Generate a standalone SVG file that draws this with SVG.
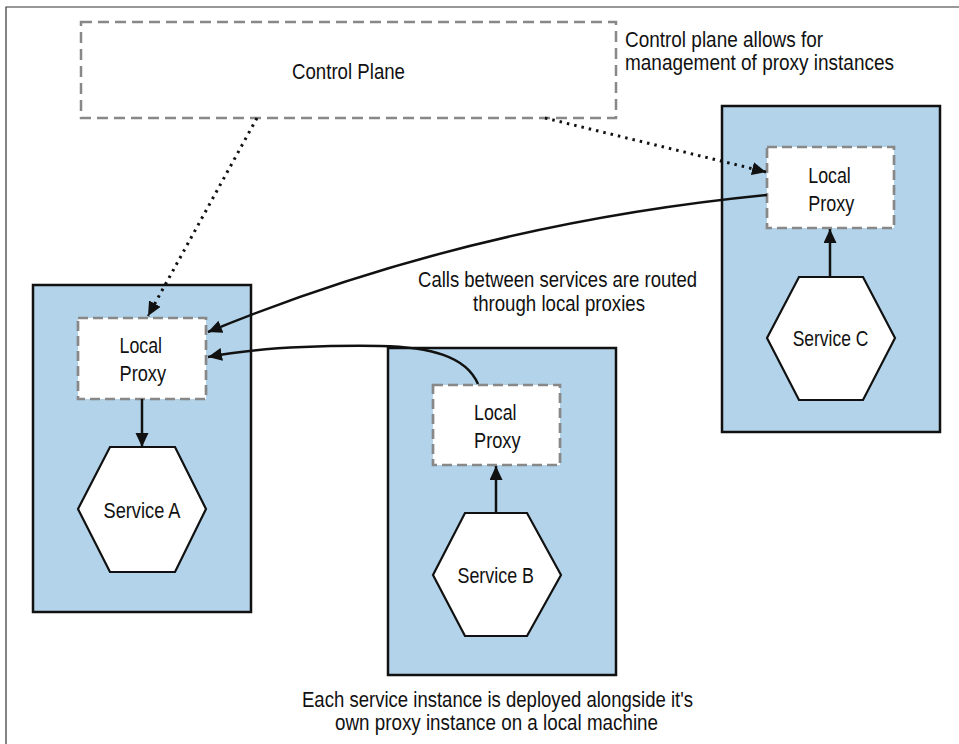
<svg xmlns="http://www.w3.org/2000/svg" width="959" height="744" viewBox="0 0 959 744">
  <style>
    .txt { font-family: "Liberation Sans", Arial, sans-serif; font-size: 22px; fill: #111; }
    .host { fill: #b2d3e9; stroke: #111; stroke-width: 2.5; }
    .proxy { fill: #fff; stroke: #888; stroke-width: 2.7; stroke-dasharray: 10 5; }
    .cp { fill: #fff; stroke: #888; stroke-width: 2.5; stroke-dasharray: 11 6; }
    .hex { fill: #fff; stroke: #111; stroke-width: 2.2; }
    .solid { fill: none; stroke: #111; stroke-width: 2.5; }
    .dotted { fill: none; stroke: #111; stroke-width: 3; stroke-dasharray: 2.5 5; }
  </style>
  <defs>
    <marker id="ah" markerUnits="userSpaceOnUse" markerWidth="16" markerHeight="14" refX="14" refY="6.5" orient="auto">
      <path d="M0,0 L14,6.5 L0,13 z" fill="#111"/>
    </marker>
  </defs>

  <rect x="0" y="0" width="959" height="744" fill="#fff"/>
  <path d="M6,744 V7 H959" fill="none" stroke="#333" stroke-width="1.2"/>

  <g id="control-plane">
    <rect class="cp" x="81" y="22" width="535" height="96"/>
    <text class="txt" x="292" y="79" textLength="113" lengthAdjust="spacingAndGlyphs">Control Plane</text>
  </g>

  <g id="note-control">
    <text class="txt" x="625" y="47" textLength="198" lengthAdjust="spacingAndGlyphs">Control plane allows for</text>
    <text class="txt" x="625" y="70" textLength="269" lengthAdjust="spacingAndGlyphs">management of proxy instances</text>
  </g>

  <g id="host-a">
    <rect class="host" x="33" y="285" width="218" height="327"/>
  </g>
  <g id="host-b">
    <rect class="host" x="388" y="348" width="228" height="327"/>
  </g>
  <g id="host-c">
    <rect class="host" x="722" y="106" width="218" height="326"/>
  </g>

  <g id="proxy-a">
    <rect class="proxy" x="78" y="318" width="128" height="81"/>
    <text class="txt" x="119.5" y="353" textLength="42.5" lengthAdjust="spacingAndGlyphs">Local</text>
    <text class="txt" x="119.5" y="381" textLength="46.5" lengthAdjust="spacingAndGlyphs">Proxy</text>
  </g>
  <g id="proxy-b">
    <rect class="proxy" x="433" y="385" width="127" height="80"/>
    <text class="txt" x="474" y="420" textLength="42.5" lengthAdjust="spacingAndGlyphs">Local</text>
    <text class="txt" x="474" y="448" textLength="46.5" lengthAdjust="spacingAndGlyphs">Proxy</text>
  </g>
  <g id="proxy-c">
    <rect class="proxy" x="767" y="147" width="127" height="81"/>
    <text class="txt" x="808.3" y="182.7" textLength="42.5" lengthAdjust="spacingAndGlyphs">Local</text>
    <text class="txt" x="808.3" y="211" textLength="46" lengthAdjust="spacingAndGlyphs">Proxy</text>
  </g>

  <g id="service-a">
    <polygon class="hex" points="110,447 175,447 206,509 175,572 110,572 78,509"/>
    <text class="txt" x="103.5" y="518" textLength="77" lengthAdjust="spacingAndGlyphs">Service A</text>
  </g>
  <g id="service-b">
    <polygon class="hex" points="465,513 527,513 561,575 527,636 465,636 433,575"/>
    <text class="txt" x="457.5" y="583" textLength="76.5" lengthAdjust="spacingAndGlyphs">Service B</text>
  </g>
  <g id="service-c">
    <polygon class="hex" points="799,277 863,277 895,338 863,400 799,400 767,338"/>
    <text class="txt" x="792.7" y="346" textLength="75.6" lengthAdjust="spacingAndGlyphs">Service C</text>
  </g>

  <g id="connectors">
    <path class="dotted" d="M257,118 L148,316" marker-end="url(#ah)"/>
    <path class="dotted" d="M545,118 L766,172" marker-end="url(#ah)"/>
    <path class="solid" d="M767,195 Q470,224 208,332" marker-end="url(#ah)"/>
    <path class="solid" d="M478,384 C466,356 430,347 380,346 C300,345 245,350 208,357" marker-end="url(#ah)"/>
    <path class="solid" d="M142,399 L142,447" marker-end="url(#ah)"/>
    <path class="solid" d="M496,513 L496,466" marker-end="url(#ah)"/>
    <path class="solid" d="M830,277 L830,229" marker-end="url(#ah)"/>
  </g>

  <g id="note-calls">
    <text class="txt" x="418" y="287" textLength="279" lengthAdjust="spacingAndGlyphs">Calls between services are routed</text>
    <text class="txt" x="473" y="311" textLength="172" lengthAdjust="spacingAndGlyphs">through local proxies</text>
  </g>

  <g id="note-deploy">
    <text class="txt" x="302" y="706.5" textLength="391" lengthAdjust="spacingAndGlyphs">Each service instance is deployed alongside it's</text>
    <text class="txt" x="335" y="729.5" textLength="323" lengthAdjust="spacingAndGlyphs">own proxy instance on a local machine</text>
  </g>
</svg>
